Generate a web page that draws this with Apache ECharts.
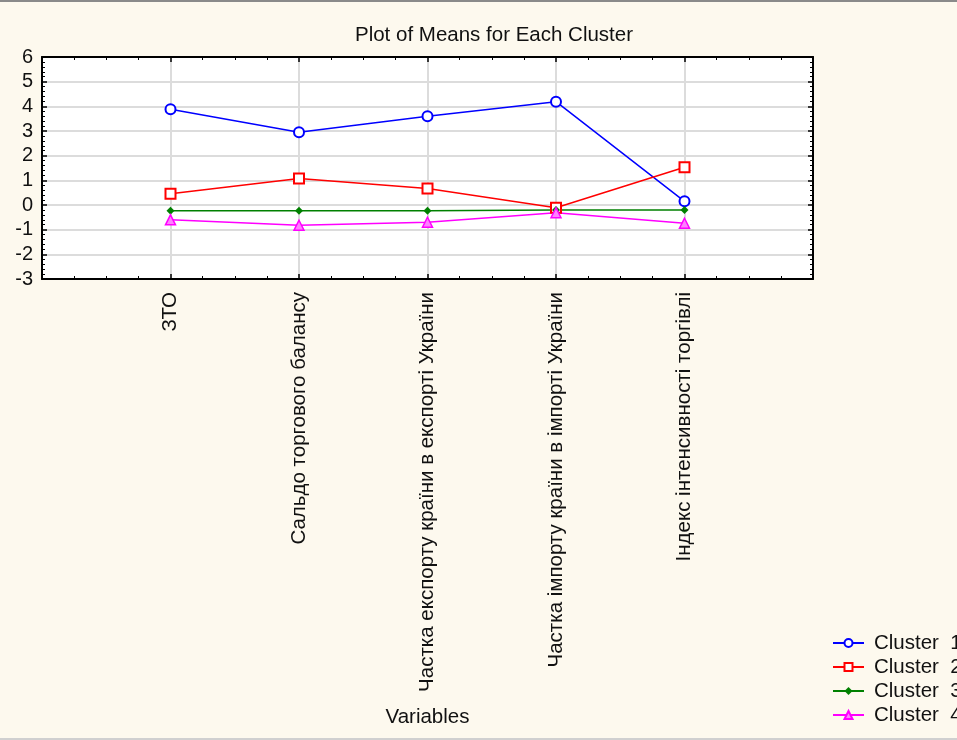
<!DOCTYPE html>
<html><head><meta charset="utf-8">
<script src="https://cdn.jsdelivr.net/npm/echarts@6/dist/echarts.min.js"></script>
<style>html,body{margin:0;padding:0;background:#fdf9ee;}#c{width:957px;height:740px;}</style>
</head><body><div id="c"></div>
<script>
const categories = ['ЗТО', 'Сальдо торгового балансу', 'Частка експорту країни в експорті України', 'Частка імпорту країни в імпорті України', 'Індекс інтенсивності торгівлі'];
const cluster1 = [3.88, 2.95, 3.6, 4.19, 0.15];
const cluster2 = [0.46, 1.07, 0.67, -0.11, 1.53];
const cluster3 = [-0.23, -0.23, -0.23, -0.2, -0.2];
const cluster4 = [-0.6, -0.82, -0.7, -0.31, -0.74];
const seriesNames = ['Cluster  1', 'Cluster  2', 'Cluster  3', 'Cluster  4'];
const yTicks = [-3, -2, -1, 0, 1, 2, 3, 4, 5, 6];

const FONT = 'Liberation Sans, Arial, sans-serif';
const FS = 20.5;
const toPts = arr => arr.map((v, i) => [i + 1, v]);
const chart = echarts.init(document.getElementById('c'));
const axisLine = {show: true, onZero: false, lineStyle: {color: '#000', width: 2}};
const xCommon = {
  type: 'value', min: 0, max: categories.length + 1, interval: 1,
  axisLine: axisLine,
  axisTick: {show: true, inside: true, length: 5, lineStyle: {color: '#000', width: 1.5}},
  minorTick: {show: true, splitNumber: 4, length: 3, lineStyle: {color: '#000', width: 1}},
};
const yCommon = {
  type: 'value', min: yTicks[0], max: yTicks[yTicks.length - 1], interval: 1,
  axisLine: axisLine,
  axisTick: {show: true, inside: true, length: 5, lineStyle: {color: '#000', width: 1.5}},
  minorTick: {show: true, splitNumber: 5, length: 3, lineStyle: {color: '#000', width: 1}},
};
chart.setOption({
  backgroundColor: '#fdf9ee',
  animation: false,
  title: {text: 'Plot of Means for Each Cluster', left: 489, textAlign: 'center', top: 20,
    textStyle: {fontFamily: FONT, fontSize: FS, fontWeight: 'normal', color: '#111'}},
  grid: {left: 42, right: 144, top: 57, bottom: 461, backgroundColor: '#fff', show: true, borderWidth: 0},
  legend: {orient: 'vertical', left: 832, top: 631, itemWidth: 31, itemHeight: 10, itemGap: 0,
    padding: 0,
    textStyle: {fontFamily: FONT, fontSize: FS, color: '#111', lineHeight: 24, padding: [0, 0, 0, 5]},
    data: seriesNames},
  xAxis: [
    Object.assign({}, xCommon, {position: 'bottom',
      name: 'Variables', nameLocation: 'middle', nameGap: 428,
      nameTextStyle: {fontFamily: FONT, fontSize: FS, color: '#111'},
      axisLabel: {rotate: 90, margin: 13, fontFamily: FONT, fontSize: FS, color: '#111',
        formatter: v => (v >= 1 && v <= categories.length) ? categories[v - 1] : ''},
      splitLine: {show: true, lineStyle: {color: '#dcdcdc', width: 2}}}),
    Object.assign({}, xCommon, {position: 'top', axisLabel: {show: false}, splitLine: {show: false}})
  ],
  yAxis: [
    Object.assign({}, yCommon, {position: 'left',
      axisLabel: {fontFamily: FONT, fontSize: 20, color: '#111', margin: 9},
      splitLine: {show: true, lineStyle: {color: '#dcdcdc', width: 2}}}),
    Object.assign({}, yCommon, {position: 'right', axisLabel: {show: false}, splitLine: {show: false}})
  ],
  series: [
    {name: seriesNames[0], type: 'line', data: toPts(cluster1), symbol: 'emptyCircle', symbolSize: 10,
      lineStyle: {color: '#0000ff', width: 1.5}, itemStyle: {color: '#0000ff', borderWidth: 1.5}},
    {name: seriesNames[1], type: 'line', data: toPts(cluster2), symbol: 'emptyRect', symbolSize: 10,
      lineStyle: {color: '#ff0000', width: 1.5}, itemStyle: {color: '#ff0000', borderWidth: 1.5}},
    {name: seriesNames[2], type: 'line', data: toPts(cluster3), symbol: 'diamond', symbolSize: 8,
      lineStyle: {color: '#008000', width: 1.5}, itemStyle: {color: '#008000'}},
    {name: seriesNames[3], type: 'line', data: toPts(cluster4), symbol: 'triangle', symbolSize: 10,
      lineStyle: {color: '#ff00ff', width: 1.5}, itemStyle: {color: '#ff80ff', borderColor: '#ff00ff', borderWidth: 1.5}}
  ],
  graphic: [
    {type: 'rect', shape: {x: 0, y: 0, width: 957, height: 2}, style: {fill: '#8a8a8a'}},
    {type: 'rect', shape: {x: 0, y: 738, width: 957, height: 2}, style: {fill: '#d0d0d0'}}
  ]
});
</script></body></html>
